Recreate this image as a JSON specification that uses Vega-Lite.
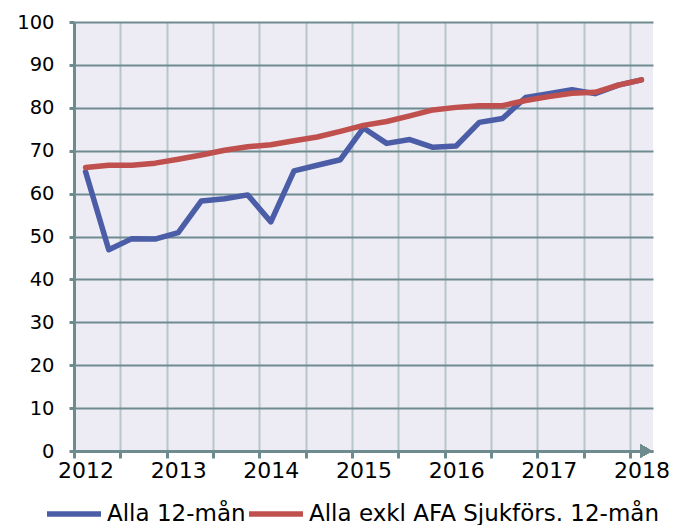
{
  "$schema": "https://vega.github.io/schema/vega-lite/v6.json",
  "autosize": {"type": "none"},
  "width": 579,
  "height": 429,
  "padding": {"left": 74, "top": 22, "right": 22, "bottom": 74},
  "background": "#ffffff",
  "config": {
    "view": {"stroke": null, "fill": "#EDECF5"},
    "font": "DejaVu Sans",
    "axisX": {
      "labelOverlap": false,
      "labelFlush": false,
      "labelFontSize": 22,
      "labelFont": "DejaVu Sans",
      "labelColor": "#000000",
      "labelPadding": 2,
      "gridColor": "#B7C6C8",
      "gridWidth": 2,
      "tickSize": 7,
      "tickWidth": 3,
      "tickColor": "#6E8C8F",
      "domainColor": "#6E8C8F",
      "domainWidth": 3
    },
    "axisY": {
      "labelFontSize": 19.5,
      "labelFont": "DejaVu Sans",
      "labelColor": "#000000",
      "labelPadding": 15,
      "gridColor": "#6E8C8F",
      "gridWidth": 2,
      "tickSize": 5,
      "tickWidth": 3,
      "tickColor": "#6E8C8F",
      "domainColor": "#6E8C8F",
      "domainWidth": 3
    }
  },
  "data": {
    "values": [
      {"t": 2012.0, "series": "Alla 12-mån", "v": 65.1},
      {"t": 2012.25, "series": "Alla 12-mån", "v": 46.9},
      {"t": 2012.5, "series": "Alla 12-mån", "v": 49.5},
      {"t": 2012.75, "series": "Alla 12-mån", "v": 49.4},
      {"t": 2013.0, "series": "Alla 12-mån", "v": 50.9},
      {"t": 2013.25, "series": "Alla 12-mån", "v": 58.3},
      {"t": 2013.5, "series": "Alla 12-mån", "v": 58.8},
      {"t": 2013.75, "series": "Alla 12-mån", "v": 59.7},
      {"t": 2014.0, "series": "Alla 12-mån", "v": 53.4},
      {"t": 2014.25, "series": "Alla 12-mån", "v": 65.3},
      {"t": 2014.5, "series": "Alla 12-mån", "v": 66.6},
      {"t": 2014.75, "series": "Alla 12-mån", "v": 67.9},
      {"t": 2015.0, "series": "Alla 12-mån", "v": 75.3},
      {"t": 2015.25, "series": "Alla 12-mån", "v": 71.7},
      {"t": 2015.5, "series": "Alla 12-mån", "v": 72.6},
      {"t": 2015.75, "series": "Alla 12-mån", "v": 70.8},
      {"t": 2016.0, "series": "Alla 12-mån", "v": 71.1},
      {"t": 2016.25, "series": "Alla 12-mån", "v": 76.6},
      {"t": 2016.5, "series": "Alla 12-mån", "v": 77.5},
      {"t": 2016.75, "series": "Alla 12-mån", "v": 82.4},
      {"t": 2017.0, "series": "Alla 12-mån", "v": 83.3},
      {"t": 2017.25, "series": "Alla 12-mån", "v": 84.2},
      {"t": 2017.5, "series": "Alla 12-mån", "v": 83.3},
      {"t": 2017.75, "series": "Alla 12-mån", "v": 85.3},
      {"t": 2018.0, "series": "Alla 12-mån", "v": 86.5},
      {"t": 2012.0, "series": "Alla exkl AFA Sjukförs. 12-mån", "v": 66.1},
      {"t": 2012.25, "series": "Alla exkl AFA Sjukförs. 12-mån", "v": 66.6},
      {"t": 2012.5, "series": "Alla exkl AFA Sjukförs. 12-mån", "v": 66.6},
      {"t": 2012.75, "series": "Alla exkl AFA Sjukförs. 12-mån", "v": 67.1},
      {"t": 2013.0, "series": "Alla exkl AFA Sjukförs. 12-mån", "v": 68.0},
      {"t": 2013.25, "series": "Alla exkl AFA Sjukförs. 12-mån", "v": 69.0},
      {"t": 2013.5, "series": "Alla exkl AFA Sjukförs. 12-mån", "v": 70.1},
      {"t": 2013.75, "series": "Alla exkl AFA Sjukförs. 12-mån", "v": 70.9},
      {"t": 2014.0, "series": "Alla exkl AFA Sjukförs. 12-mån", "v": 71.4},
      {"t": 2014.25, "series": "Alla exkl AFA Sjukförs. 12-mån", "v": 72.3},
      {"t": 2014.5, "series": "Alla exkl AFA Sjukförs. 12-mån", "v": 73.2},
      {"t": 2014.75, "series": "Alla exkl AFA Sjukförs. 12-mån", "v": 74.5},
      {"t": 2015.0, "series": "Alla exkl AFA Sjukförs. 12-mån", "v": 75.9},
      {"t": 2015.25, "series": "Alla exkl AFA Sjukförs. 12-mån", "v": 76.8},
      {"t": 2015.5, "series": "Alla exkl AFA Sjukförs. 12-mån", "v": 78.1},
      {"t": 2015.75, "series": "Alla exkl AFA Sjukförs. 12-mån", "v": 79.5},
      {"t": 2016.0, "series": "Alla exkl AFA Sjukförs. 12-mån", "v": 80.1},
      {"t": 2016.25, "series": "Alla exkl AFA Sjukförs. 12-mån", "v": 80.5},
      {"t": 2016.5, "series": "Alla exkl AFA Sjukförs. 12-mån", "v": 80.5},
      {"t": 2016.75, "series": "Alla exkl AFA Sjukförs. 12-mån", "v": 81.7},
      {"t": 2017.0, "series": "Alla exkl AFA Sjukförs. 12-mån", "v": 82.6},
      {"t": 2017.25, "series": "Alla exkl AFA Sjukförs. 12-mån", "v": 83.4},
      {"t": 2017.5, "series": "Alla exkl AFA Sjukförs. 12-mån", "v": 83.6},
      {"t": 2017.75, "series": "Alla exkl AFA Sjukförs. 12-mån", "v": 85.3},
      {"t": 2018.0, "series": "Alla exkl AFA Sjukförs. 12-mån", "v": 86.5}
    ]
  },
  "layer": [
    {
      "mark": {"type": "line", "strokeWidth": 5.5, "strokeJoin": "round", "strokeCap": "round"},
      "encoding": {
        "x": {
          "field": "t",
          "type": "quantitative",
          "scale": {"domain": [2011.875, 2018.125], "nice": false, "zero": false},
          "axis": {
            "title": null,
            "values": [2011.875, 2012, 2012.375, 2012.875, 2013, 2013.375, 2013.875, 2014, 2014.375, 2014.875, 2015, 2015.375, 2015.875, 2016, 2016.375, 2016.875, 2017, 2017.375, 2017.875, 2018],
            "tickCount": 100,
            "tickMinStep": 0.0625,
            "labelExpr": "datum.value % 1 == 0 ? '' + datum.value : ''",
            "grid": true,
            "gridOpacity": {"condition": {"test": "datum.value % 1 == 0", "value": 0}, "value": 1},
            "tickOpacity": {"condition": {"test": "datum.value % 1 == 0", "value": 0}, "value": 1},
            "zindex": 0
          }
        },
        "y": {
          "field": "v",
          "type": "quantitative",
          "scale": {"domain": [0, 100], "nice": false},
          "axis": {
            "title": null,
            "values": [0, 10, 20, 30, 40, 50, 60, 70, 80, 90, 100],
            "tickCount": 100,
            "grid": true,
            "zindex": 0
          }
        },
        "color": {
          "field": "series",
          "type": "nominal",
          "scale": {"domain": ["Alla 12-mån", "Alla exkl AFA Sjukförs. 12-mån"], "range": ["#4A5DA6", "#C0504D"]},
          "legend": {
            "title": null,
            "orient": "none",
            "direction": "horizontal",
            "legendX": -30,
            "legendY": 462,
            "symbolType": "stroke",
            "symbolSize": 2916,
            "symbolStrokeWidth": 5.5,
            "labelFontSize": 23,
            "labelFont": "DejaVu Sans",
            "labelColor": "#000000",
            "labelLimit": 500,
            "labelOffset": 3,
            "columnPadding": -12,
            "padding": 0
          }
        }
      }
    },
    {
      "mark": {"type": "point", "shape": "triangle-right", "filled": true, "size": 170, "color": "#6E8C8F", "opacity": 1, "clip": false},
      "encoding": {
        "x": {
          "datum": 2018.05,
          "type": "quantitative",
          "axis": {
            "title": null,
            "values": [2011.875, 2012, 2012.375, 2012.875, 2013, 2013.375, 2013.875, 2014, 2014.375, 2014.875, 2015, 2015.375, 2015.875, 2016, 2016.375, 2016.875, 2017, 2017.375, 2017.875, 2018],
            "tickCount": 100,
            "tickMinStep": 0.0625,
            "labelExpr": "datum.value % 1 == 0 ? '' + datum.value : ''",
            "grid": true,
            "gridOpacity": {"condition": {"test": "datum.value % 1 == 0", "value": 0}, "value": 1},
            "tickOpacity": {"condition": {"test": "datum.value % 1 == 0", "value": 0}, "value": 1},
            "zindex": 0
          }
        },
        "y": {
          "datum": 0,
          "type": "quantitative",
          "axis": {
            "title": null,
            "values": [0, 10, 20, 30, 40, 50, 60, 70, 80, 90, 100],
            "tickCount": 100,
            "grid": true,
            "zindex": 0
          }
        }
      }
    }
  ]
}
